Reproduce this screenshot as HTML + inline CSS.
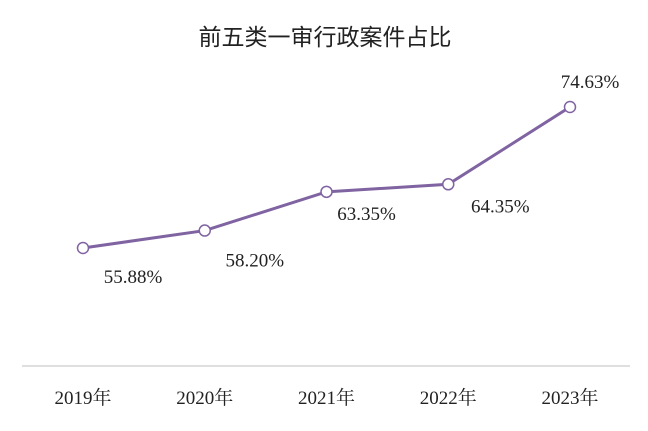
<!DOCTYPE html>
<html><head><meta charset="utf-8"><style>
body{margin:0;background:#fff;}
svg{display:block;}
</style></head><body>
<svg id="chart" width="648" height="431" viewBox="0 0 648 431" xmlns="http://www.w3.org/2000/svg">
<text x="325" y="45" text-anchor="middle" font-family="'Liberation Sans','Noto Sans CJK SC',sans-serif" font-size="23" fill="#222">前五类一审行政案件占比</text>
<line x1="22" y1="366" x2="630" y2="366" stroke="#bfbfbf" stroke-width="1"/>
<g id="xlabels"></g>
<g id="series"></g>
</svg>
<script>
const categories = ["2019年","2020年","2021年","2022年","2023年"];
const values = [55.88, 58.20, 63.35, 64.35, 74.63];
const valueLabels = ["55.88%","58.20%","63.35%","64.35%","74.63%"];
const NS = "http://www.w3.org/2000/svg";
function xScale(i){ return 83 + i * 121.75; }
function yScale(v){ return 248 - (v - 55.88) * 7.52; }
const labelOffsets = [[50,28],[50,29],[40,21],[52,21],[20,-26]];
const xl = document.getElementById('xlabels');
const sg = document.getElementById('series');
categories.forEach((c,i)=>{
  const t = document.createElementNS(NS,'text');
  
  
  t.setAttribute('x', xScale(i)); t.setAttribute('y', 404);
  t.setAttribute('text-anchor','middle');
  t.setAttribute('font-family',"'Liberation Serif','Noto Serif CJK SC',serif");
  t.setAttribute('font-size','19'); t.setAttribute('fill','#222');
  t.textContent = c; xl.appendChild(t);
});
const pts = values.map((v,i)=>xScale(i)+','+yScale(v)).join(' ');
const pl = document.createElementNS(NS,'polyline');


pl.setAttribute('points', pts); pl.setAttribute('fill','none');
pl.setAttribute('stroke','#8064a2'); pl.setAttribute('stroke-width','3');
sg.appendChild(pl);
values.forEach((v,i)=>{
  const c = document.createElementNS(NS,'circle');
  
  
  c.setAttribute('cx', xScale(i)); c.setAttribute('cy', yScale(v));
  c.setAttribute('r', 5.5); c.setAttribute('fill','#fff');
  c.setAttribute('stroke','#8064a2'); c.setAttribute('stroke-width','1.5');
  sg.appendChild(c);
  const t = document.createElementNS(NS,'text');
  
  
  t.setAttribute('x', xScale(i)+labelOffsets[i][0]);
  t.setAttribute('y', yScale(v)+labelOffsets[i][1]+7);
  t.setAttribute('text-anchor','middle');
  t.setAttribute('font-family',"'Liberation Serif',serif");
  t.setAttribute('font-size','19'); t.setAttribute('fill','#222');
  t.textContent = valueLabels[i]; sg.appendChild(t);
});
</script>
</body></html>
